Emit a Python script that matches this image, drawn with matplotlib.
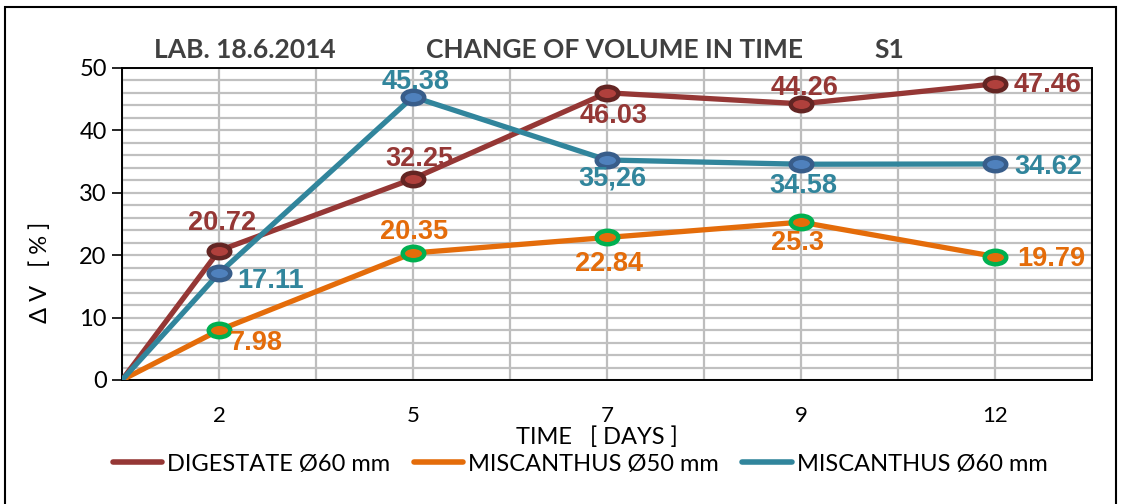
import matplotlib
matplotlib.use('Agg')
import matplotlib.pyplot as plt
from matplotlib.lines import Line2D
from matplotlib.path import Path
from matplotlib.transforms import Affine2D
from matplotlib.patches import Rectangle

plt.rcParams['font.family'] = ['Lato', 'DejaVu Sans']

# ---------- data ----------
axis_days = ['0', '2', '', '5', '', '7', '', '9', '', '12', '']
days = [0, 2, 5, 7, 9, 12]
digestate_60 = [0, 20.72, 32.25, 46.03, 44.26, 47.46]
miscanthus_50 = [0, 7.98, 20.35, 22.84, 25.3, 19.79]
miscanthus_60 = [0, 17.11, 45.38, 35.26, 34.58, 34.62]
digestate_lbl = ['20.72', '32.25', '46.03', '44.26', '47.46']
misc50_lbl = ['7.98', '20.35', '22.84', '25.3', '19.79']
misc60_lbl = ['17.11', '45.38', '35,26', '34.58', '34.62']
series_names = ['DIGESTATE Ø60 mm', 'MISCANTHUS Ø50 mm', 'MISCANTHUS Ø60 mm']

x = [axis_days.index(str(d)) for d in days]

# label offsets in pixels (dx, dy, ha) -- layout only
dig_off = [(3, 28, 'center'), (6, 20, 'center'), (7, -23, 'center'),
           (4, 16, 'center'), (19, -1, 'left')]
m50_off = [(11, -13, 'left'), (1, 21, 'center'), (2, -27, 'center'),
           (-3, -21, 'center'), (22, -2, 'left')]
m60_off = [(18, -8, 'left'), (3, 15, 'center'), (5, -19, 'center'),
           (2, -22, 'center'), (19, -3, 'left')]

ellipse = Path.unit_circle().transformed(Affine2D().scale(1.6, 1.0))

W, H = 1121, 504
fig = plt.figure(figsize=(W / 100, H / 100), dpi=100)
ax = fig.add_axes([122 / W, 1 - 380 / H, (1092 - 122) / W, (380 - 68) / H])

ax.set_xlim(0, len(axis_days) - 1)
ax.set_ylim(0, 50)
ax.set_yticks(range(0, 51, 10))
ax.set_yticks(range(0, 51, 2), minor=True)
ax.set_xticks(range(len(axis_days)))
ax.set_xticklabels([''] + axis_days[1:])
ax.grid(which='both', axis='y', color='#C0C0C0', linewidth=1.6, zorder=0)
ax.grid(which='major', axis='x', color='#BDBDBD', linewidth=1.6, zorder=0)
ax.set_axisbelow(True)
ax.tick_params(axis='x', length=0, pad=19, labelsize=16)
ax.tick_params(axis='y', which='major', length=7, width=1.2, direction='out',
               labelsize=17, pad=4)
ax.tick_params(axis='y', which='minor', length=0)
for s in ax.spines.values():
    s.set_color('black')
    s.set_linewidth(1.4)

styles = [
    (digestate_60, '#953735', '#B0403C', '#632523', digestate_lbl, dig_off),
    (miscanthus_50, '#E46C0A', '#E46C0A', '#00B050', misc50_lbl, m50_off),
    (miscanthus_60, '#31859C', '#4F81BD', '#385D8A', misc60_lbl, m60_off),
]
for vals, col, mfc, mec, lbls, offs in styles:
    ax.plot(x, vals, color=col, linewidth=3.8, zorder=3, solid_capstyle='round')
    ax.plot(x[1:], vals[1:], linestyle='none', marker=ellipse, markersize=15.5,
            markerfacecolor=mfc, markeredgecolor=mec, markeredgewidth=3.2, zorder=4)
    for xi, v, t, (dx, dy, ha) in zip(x[1:], vals[1:], lbls, offs):
        ax.annotate(t, (xi, v), xytext=(dx, dy), textcoords='offset pixels',
                    ha=ha, va='center', fontsize=19.5, fontweight='bold',
                    color=col, family='Liberation Sans', zorder=5)

# titles
tcol = '#404040'
fig.text(245 / W, 1 - 50 / H, 'LAB. 18.6.2014', ha='center', va='center',
         fontsize=19, fontweight='bold', color=tcol)
fig.text(615 / W, 1 - 50 / H, 'CHANGE OF VOLUME IN TIME', ha='center', va='center',
         fontsize=19, fontweight='bold', color=tcol)
fig.text(889 / W, 1 - 50 / H, 'S1', ha='center', va='center',
         fontsize=19, fontweight='bold', color=tcol)

fig.text(40 / W, 1 - 272 / H, 'Δ V   [ % ]', rotation=90, ha='center', va='center',
         fontsize=17, color='black')
fig.text(597 / W, 1 - 437 / H, 'TIME   [ DAYS ]', ha='center', va='center',
         fontsize=17, color='black')

handles = [Line2D([], [], color=c, linewidth=4, solid_capstyle='round')
           for c in ['#953735', '#E46C0A', '#31859C']]
fig.legend(handles, series_names, ncol=3, loc='center',
           bbox_to_anchor=(580 / W, 1 - 464 / H), frameon=False, fontsize=17,
           handlelength=2.1, handletextpad=0.2, columnspacing=1.0)

fig.add_artist(Rectangle((5 / W, -0.02), (1116 - 5) / W, (H - 7) / H + 0.02,
                         transform=fig.transFigure, fill=False,
                         edgecolor='black', linewidth=1.5))

fig.savefig('out.png', dpi=100)
